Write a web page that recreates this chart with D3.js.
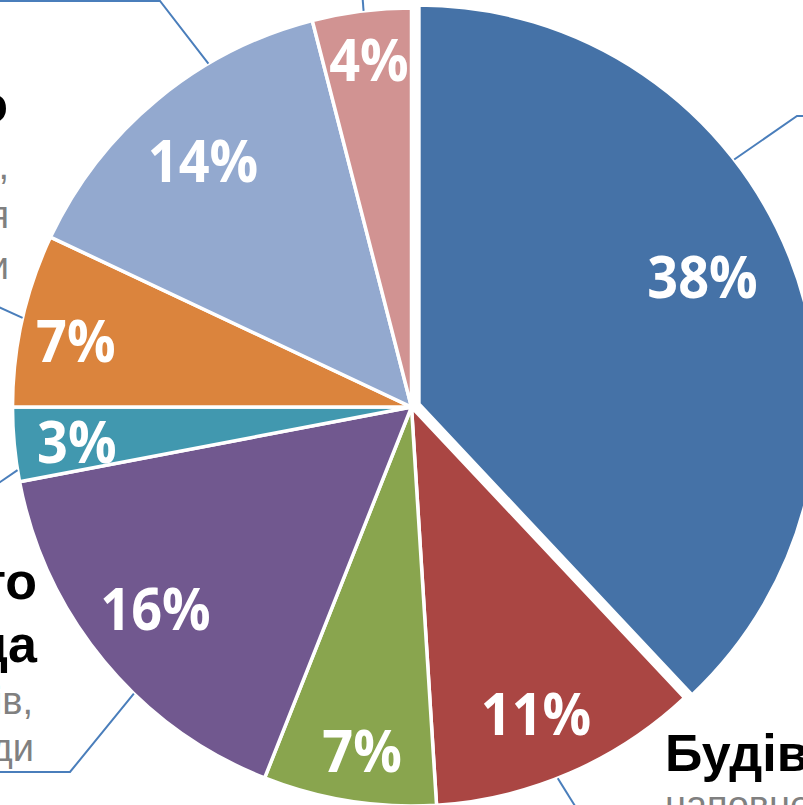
<!DOCTYPE html>
<html><head><meta charset="utf-8">
<script src="https://cdn.jsdelivr.net/npm/d3@7"></script>
<style>html,body{margin:0;padding:0;background:#fff;overflow:hidden}</style>
</head><body>
<svg id="chart" width="803" height="805"></svg>
<script>
// ---- data ----
const categories = ["Промисловість", "Будівництво", "Транспорт", "Переробна промисловість", "Зв'язок", "Торгівля", "Сільське господарство", "Інше"];
const shares = [38, 11, 7, 16, 3, 7, 14, 4];
const sliceColors = ["#4572a7", "#aa4643", "#89a54e", "#71588f", "#4198af", "#db843d", "#93a9cf", "#d19392"];

// ---- layout ----
const W = 803, H = 805;
const cx = 411.5, cy = 407, R = 399;
const explode = [8, 0, 0, 0, 0, 0, 0, 0];
const labelRadius = [0.775, 0.836, 0.873, 0.813, 0.845, 0.857, 0.80, 0.871];
const labelNudge = [[-4, -14], [-8, 0], [5, -1], [-6, -5], [1, 3], [-2, 8], [-5, -1], [1, -3]];
const leaderColor = "#4a7ebb";

const svg = d3.select("#chart");
const g = svg.append("g").attr("transform", `translate(${cx},${cy})`);

const pie = d3.pie().sort(null).value(d => d).startAngle(0).endAngle(2 * Math.PI);
const arcs = pie(shares);
const arc = d3.arc().innerRadius(0).outerRadius(R);

function offsetOf(d, i) {
  const m = (d.startAngle + d.endAngle) / 2;
  return [Math.sin(m) * explode[i], -Math.cos(m) * explode[i]];
}

const slices = g.selectAll("g.slice").data(arcs).enter().append("g")
  .attr("class", "slice")
  .attr("transform", (d, i) => { const o = offsetOf(d, i); return `translate(${o[0]},${o[1]})`; });

slices.append("path")
  .attr("d", arc)
  .attr("fill", (d, i) => sliceColors[i])
  .attr("stroke", "#fff")
  .attr("stroke-width", 3.5)
  .attr("stroke-linejoin", "miter");

slices.append("text")
  .attr("transform", (d, i) => {
    const c = d3.arc().innerRadius(0).outerRadius(2 * R * labelRadius[i]).centroid(d);
    return `translate(${c[0] + labelNudge[i][0]},${c[1] + labelNudge[i][1]}) scale(0.9,1)`;
  })
  .attr("text-anchor", "middle")
  .attr("dy", "0.36em")
  .attr("fill", "#fff")
  .attr("font-family", "'Open Sans', sans-serif")
  .attr("font-weight", "bold")
  .attr("font-size", 60)
  .text(d => d.data + "%");

// ---- leader lines (to outside category labels) ----
const leaders = [
  { slice: 0, angle: 52.2, pts: [[797, 116], [815, 116]] },
  { slice: 1, angle: 158.5, pts: [[590, 830]] },
  { slice: 3, angle: 224.1, pts: [[70, 772], [-10, 772]] },
  { slice: 4, angle: 260.9, pts: [[-10, 489]] },
  { slice: 5, angle: 282.9, pts: [[-10, 303]] },
  { slice: 6, angle: 329.4, pts: [[160, 1], [-10, 1]] },
  { slice: 7, angle: 353.1, pts: [[362, -10]] }
];
leaders.forEach(l => {
  const a = l.angle * Math.PI / 180;
  const o = offsetOf(arcs[l.slice], l.slice);
  const start = [cx + o[0] + Math.sin(a) * R, cy + o[1] - Math.cos(a) * R];
  svg.append("path")
    .attr("d", d3.line()([start].concat(l.pts)))
    .attr("fill", "none")
    .attr("stroke", leaderColor)
    .attr("stroke-width", 2);
});

// ---- outside category labels (mostly cropped) ----
const textBlocks = [
  { x: 8, anchor: "end", lines: [
    { t: "Сільське господарство", bold: true, y: 122 },
    { t: "рослинництво,", y: 179, dx: 1 },
    { t: "мисливство та розведення", y: 228, dx: 1 },
    { t: "худоби", y: 279, dx: 1 } ] },
  { x: 37, anchor: "end", lines: [
    { t: "Виробництво авто", bold: true, y: 599 },
    { t: "та переробна промисловість і вода", bold: true, y: 662 },
    { t: "виробництво продуктів,", y: 714, dx: -4 },
    { t: "напоїв, очищення води", y: 761, dx: -3 } ] },
  { x: 665, anchor: "start", lines: [
    { t: categories[1], bold: true, y: 771 },
    { t: "наповнення будівель", y: 818 } ] }
];
textBlocks.forEach(b => {
  b.lines.forEach(l => {
    svg.append("text")
      .attr("x", b.x + (l.dx || 0))
      .attr("y", l.y)
      .attr("text-anchor", b.anchor)
      .attr("font-family", "'Liberation Sans', Arial, sans-serif")
      .attr("font-weight", l.bold ? "bold" : "normal")
      .attr("font-size", l.bold ? 52 : 38)
      .attr("fill", l.bold ? "#000" : "#808080")
      .text(l.t);
  });
});
</script>
</body></html>
